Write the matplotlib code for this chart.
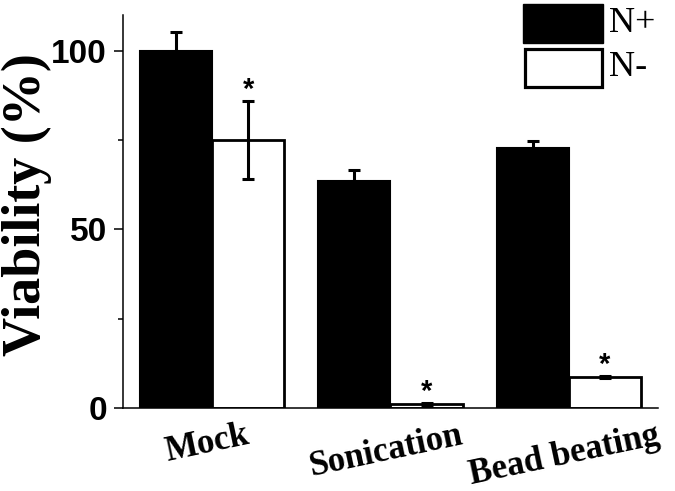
import matplotlib
matplotlib.use("Agg")
import matplotlib.pyplot as plt
import matplotlib.transforms as mtransforms
from matplotlib.patches import Rectangle
import numpy as np

groups = ["Mock", "Sonication", "Bead beating"]
n_plus = [100, 63.6, 72.8]
n_plus_err = [5.4, 3.0, 2.0]
n_minus = [75, 1.0, 8.7]
n_minus_err = [11, 0.3, 0.3]
stars = ["*", "*", "*"]
series = ["N+", "N-"]

W, H = 675, 491
fig = plt.figure(figsize=(6.75, 4.91), dpi=100)
ax = fig.add_axes([0.182, 0.169, 0.793, 0.800])

x = np.arange(len(groups))
w = 0.404
ekw = dict(elinewidth=2.2, capthick=2.2)
ax.bar(x - w / 2, n_plus, w, color="black", edgecolor="black", linewidth=1.5,
       yerr=n_plus_err, capsize=4, error_kw=ekw)
ax.bar(x + w / 2, n_minus, w, color="white", edgecolor="black", linewidth=2.0,
       yerr=n_minus_err, capsize=4, error_kw=ekw)

for i in range(len(groups)):
    ax.text(x[i] + w / 2, n_minus[i] + n_minus_err[i] + 3.2, stars[i],
            ha="center", va="center", fontsize=21, fontweight="bold",
            family="Liberation Sans")

ax.set_xlim(-0.5, 2.5)
ax.set_ylim(0, 110)
ax.set_yticks([0, 50, 100])
ax.set_yticks([25, 75], minor=True)
ax.tick_params(axis="y", which="major", length=6.5, width=1.1, pad=5,
               labelsize=24)
ax.tick_params(axis="y", which="minor", length=3.5, width=1.1)
for lab in ax.get_yticklabels():
    lab.set_fontweight("bold")
    lab.set_family("Liberation Sans")

ax.set_xticks(x)
ax.set_xticklabels(groups, rotation=12, fontsize=25, fontweight="bold",
                   family="Liberation Serif")
ax.tick_params(axis="x", length=0, pad=8)
shift = mtransforms.ScaledTranslation(-5 / 100, 0, fig.dpi_scale_trans)
for lab in ax.get_xticklabels():
    lab.set_transform(lab.get_transform() + shift)

for s in ["top", "right"]:
    ax.spines[s].set_visible(False)
for s in ["left", "bottom"]:
    ax.spines[s].set_linewidth(1.1)

fig.text(27 / W, 1 - 205 / H, "Viability (%)", rotation=90, ha="center",
         va="center", fontsize=39, fontweight="bold", family="Liberation Serif")

# legend drawn by hand (big boxes)
fig.add_artist(Rectangle((523 / W, 1 - 43 / H), 80 / W, 39 / H,
                         transform=fig.transFigure, facecolor="black",
                         edgecolor="black", linewidth=1))
fig.add_artist(Rectangle((524.5 / W, 1 - 87 / H), 77 / W, 38 / H,
                         transform=fig.transFigure, facecolor="white",
                         edgecolor="black", linewidth=2.3))
fig.text(609 / W, 1 - 24 / H, series[0], ha="left", va="center", fontsize=26,
         family="Liberation Serif")
fig.text(609 / W, 1 - 67 / H, series[1], ha="left", va="center", fontsize=26,
         family="Liberation Serif")

fig.savefig("out.png", dpi=100)
